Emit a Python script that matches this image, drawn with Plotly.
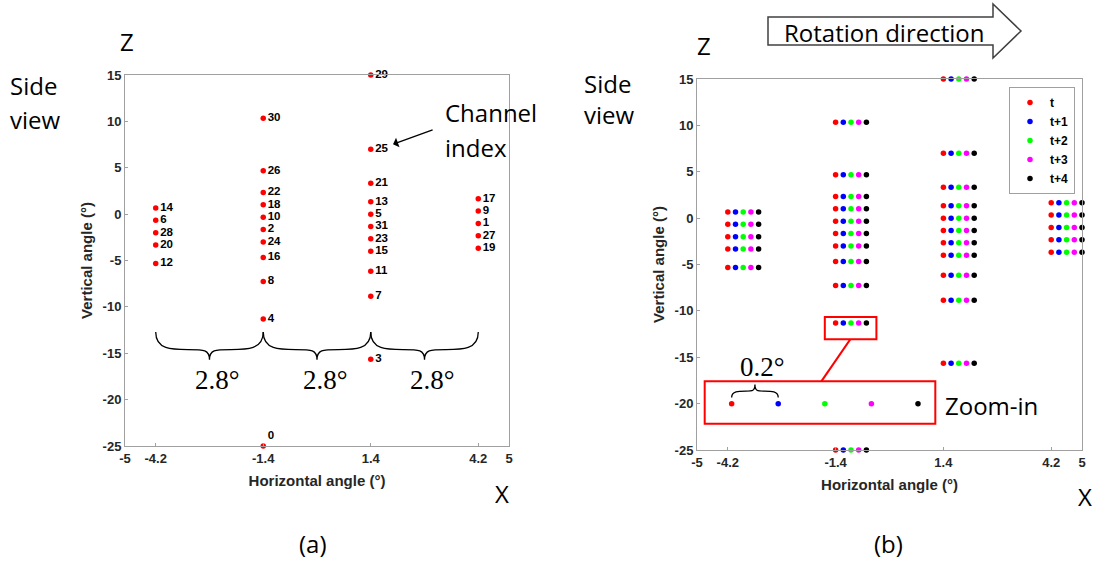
import plotly.graph_objects as go

# ---------------- data ----------------
col_h = [-4.2, -1.4, 1.4, 4.2]          # horizontal (azimuth) offset of each column (deg)
col1_ids = [14, 6, 28, 20, 12]
col1_v = [0.667, -0.667, -2.0, -3.333, -5.333]
col2_ids = [30, 26, 22, 18, 10, 2, 24, 16, 8, 4, 0]
col2_v = [10.333, 4.667, 2.333, 1.0, -0.333, -1.667, -3.0, -4.667, -7.254, -11.31, -25.0]
col3_ids = [29, 25, 21, 13, 5, 31, 23, 15, 11, 7, 3]
col3_v = [15.0, 7.0, 3.333, 1.333, 0.0, -1.333, -2.667, -4.0, -6.148, -8.843, -15.639]
col4_ids = [17, 9, 1, 27, 19]
col4_v = [1.667, 0.333, -1.0, -2.333, -3.667]

time_labels = ["t", "t+1", "t+2", "t+3", "t+4"]
time_offsets = [0.0, 0.2, 0.4, 0.6, 0.8]
time_colors = ["#ff0000", "#0000ff", "#00ff00", "#ff00ff", "#000000"]

# zoom-in illustration (magnified copy of the -11.3 deg row)
zoom_x = [-4.1, -2.89, -1.68, -0.47, 0.74]
zoom_y = [-20, -20, -20, -20, -20]

x_ticks = [-5, -4.2, -1.4, 1.4, 4.2, 5]
y_ticks = [15, 10, 5, 0, -5, -10, -15, -20, -25]

# ---------------- build ----------------
cols_ids = [col1_ids, col2_ids, col3_ids, col4_ids]
cols_v = [col1_v, col2_v, col3_v, col4_v]
all_x, all_y, all_t = [], [], []
for h, ids, vs in zip(col_h, cols_ids, cols_v):
    for i, v in zip(ids, vs):
        all_x.append(h)
        all_y.append(v)
        all_t.append(str(i))
text_pos = ["top right" if t == "0" else "middle right" for t in all_t]

W, H = 1094, 562


def px(x):
    return x / W


def py(y):
    return 1 - y / H


fig = go.Figure()

fig.add_trace(go.Scatter(
    x=all_x, y=all_y, mode="markers+text", text=all_t, textposition=text_pos,
    textfont=dict(family="Liberation Sans", size=11.5, color="#000000", weight="bold"),
    marker=dict(color="#ff0000", size=5.5), cliponaxis=False, showlegend=False,
    xaxis="x", yaxis="y", hoverinfo="skip"))

for lab, off, colr in zip(time_labels, time_offsets, time_colors):
    fig.add_trace(go.Scatter(
        x=[xx + off for xx in all_x], y=all_y, mode="markers", name=lab,
        marker=dict(color=colr, size=5.5), cliponaxis=False,
        xaxis="x2", yaxis="y2"))

fig.add_trace(go.Scatter(
    x=zoom_x, y=zoom_y, mode="markers", marker=dict(color=time_colors, size=5.5),
    showlegend=False, cliponaxis=False, xaxis="x2", yaxis="y2"))

axis_common = dict(
    range=[-5, 5], showgrid=False, zeroline=False, showline=True, mirror=True,
    automargin=False,
    linecolor="#a0a0a0", linewidth=1, ticks="inside", ticklen=3, tickcolor="#a0a0a0",
    tickfont=dict(family="Liberation Sans", size=13, color="#262626", weight="bold"),
)
xa = dict(axis_common, tickvals=x_ticks, ticktext=[str(v) for v in x_ticks],
          title=dict(text="Horizontal angle (°)", standoff=10,
                     font=dict(family="Liberation Sans", size=15, color="#262626", weight="bold")))
ya = dict(axis_common, range=[-25, 15], tickvals=y_ticks, ticktext=[str(v) for v in y_ticks],
          title=dict(text="Vertical angle (°)", standoff=6,
                     font=dict(family="Liberation Sans", size=15, color="#262626", weight="bold")))

fig.update_layout(
    width=W, height=H, margin=dict(l=0, r=0, t=0, b=0, autoexpand=False),
    paper_bgcolor="white", plot_bgcolor="white",
    xaxis=dict(xa, domain=[125 / W, 509 / W], anchor="y"),
    yaxis=dict(ya, domain=[py(446), py(75)], anchor="x"),
    xaxis2=dict(xa, domain=[697 / W, 1082 / W], anchor="y2"),
    yaxis2=dict(ya, domain=[py(450), py(79)], anchor="x2"),
    legend=dict(x=px(1009), y=py(87), xanchor="left", yanchor="top",
                bordercolor="#a0a0a0", borderwidth=1, bgcolor="rgba(255,255,255,0)",
                font=dict(family="Liberation Sans", size=12, color="#000000", weight="bold"),
                itemwidth=30, tracegroupgap=0),
    showlegend=True,
)


def brace(x0, x1, yt, ym, ytip):
    w = (x1 - x0) / 2
    xm = x0 + w
    return (f"M {x0},{yt} C {x0},{ym} {x0 + 0.3 * w},{ym} {x0 + 0.6 * w},{ym} "
            f"C {xm - 0.1 * w},{ym} {xm},{ym} {xm},{ytip} "
            f"C {xm},{ym} {xm + 0.1 * w},{ym} {x1 - 0.6 * w},{ym} "
            f"C {x1 - 0.3 * w},{ym} {x1},{ym} {x1},{yt}")


shapes = []
for a, b in [(-4.2, -1.4), (-1.4, 1.4), (1.4, 4.2)]:
    shapes.append(dict(type="path", xref="x", yref="y", path=brace(a, b, -12.7, -14.6, -15.7),
                       line=dict(color="#000000", width=1.3)))
# zoom-in brace (upside down)
shapes.append(dict(type="path", xref="x2", yref="y2",
                   path=brace(zoom_x[0], zoom_x[1], -19.35, -18.65, -17.95),
                   line=dict(color="#000000", width=1.3)))
# red boxes & connector
shapes.append(dict(type="rect", xref="x2", yref="y2", x0=-1.68, x1=-0.34, y0=-13.07, y1=-10.67,
                   line=dict(color="#ff0000", width=2)))
shapes.append(dict(type="rect", xref="x2", yref="y2", x0=-4.8, x1=1.19, y0=-22.16, y1=-17.6,
                   line=dict(color="#ff0000", width=2)))
shapes.append(dict(type="line", xref="x2", yref="y2", x0=-1.02, y0=-13.07, x1=-1.77, y1=-17.6,
                   line=dict(color="#ff0000", width=2)))
# rotation direction block arrow
pts = [(768, 17), (993, 17), (993, 4), (1021, 31), (993, 58), (993, 45), (768, 45)]
path = "M " + " L ".join(f"{px(a)},{py(b)}" for a, b in pts) + " Z"
shapes.append(dict(type="path", xref="paper", yref="paper", path=path,
                   line=dict(color="#404040", width=1.5), fillcolor="white", layer="below"))
fig.update_layout(shapes=shapes)

big = dict(family="Open Sans", size=24, color="#000000")
serif = dict(family="Liberation Serif", size=27, color="#000000")
ann = []


def ptext(text, x, y, font=big, xanchor="center"):
    ann.append(dict(text=text, x=px(x), y=py(y), xref="paper", yref="paper",
                    showarrow=False, font=font, xanchor=xanchor, yanchor="middle"))


ptext("Side", 8, 85, xanchor="left")
ptext("view", 8, 120, xanchor="left")
ptext("Z", 127, 42)
ptext("X", 502, 493)
ptext("(a)", 313, 543)
ptext("Side", 582, 83, xanchor="left")
ptext("view", 582, 115, xanchor="left")
ptext("Z", 704, 46)
ptext("X", 1085, 496)
ptext("(b)", 888, 543)
ptext("Rotation direction", 884, 32)
ptext("Channel", 443, 113, xanchor="left")
ptext("index", 443, 147, xanchor="left")
ptext("Zoom-in", 943, 405, xanchor="left")

for xm in [-2.8, 0.0, 2.8]:
    ann.append(dict(text="2.8°", x=xm, y=-17.9, xref="x", yref="y", showarrow=False,
                    font=serif, xshift=8))
ann.append(dict(text="0.2°", x=-3.3, y=-16.0, xref="x2", yref="y2", showarrow=False, font=serif))
# channel index arrow
ann.append(dict(text="", x=1.98, y=7.53, xref="x", yref="y", ax=3.05, ay=9.15, axref="x", ayref="y",
                showarrow=True, arrowhead=1, arrowsize=1.3, arrowwidth=1.3, arrowcolor="#000000"))
fig.update_layout(annotations=ann)

fig.write_html("out.html", config={"displayModeBar": False},
               post_script="document.body.style.margin='0';")
